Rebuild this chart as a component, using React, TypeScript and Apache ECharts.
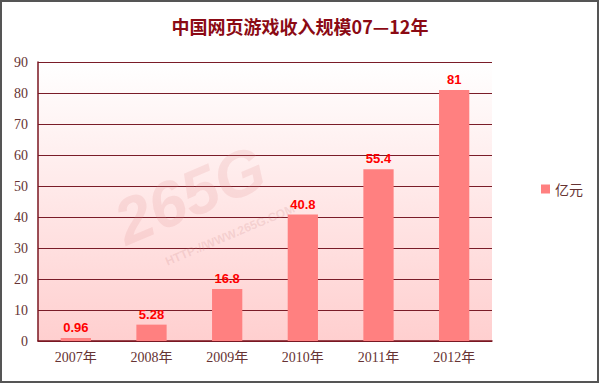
import React, { useEffect, useRef } from "react";
import * as echarts from "echarts";

const categories = ["2007年", "2008年", "2009年", "2010年", "2011年", "2012年"];
const values = [0.96, 5.28, 16.8, 40.8, 55.4, 81];
const seriesName = "亿元";
const titleText = "中国网页游戏收入规模07—12年";

export default function App() {
  const ref = useRef<HTMLDivElement>(null);
  useEffect(() => {
    document.body.style.margin = "0";
    const chart = echarts.init(ref.current!, null, { renderer: "svg" });
    chart.setOption({
      animation: false,
      backgroundColor: "#ffffff",
      title: {
        text: titleText,
        left: "center",
        top: 12,
        textStyle: {
          color: "#8B0A14",
          fontSize: 18,
          fontWeight: "bold",
          fontFamily: "Noto Sans CJK SC",
        },
      },
      legend: {
        data: [seriesName],
        left: 536,
        top: 177,
        icon: "rect",
        itemWidth: 9,
        itemHeight: 9,
        textStyle: { color: "#663333", fontSize: 14, fontFamily: "Noto Sans CJK SC" },
      },
      grid: {
        left: 38,
        right: 108,
        top: 62,
        bottom: 43,
        show: true,
        borderWidth: 0,
        backgroundColor: new echarts.graphic.LinearGradient(0, 0, 0, 1, [
          { offset: 0, color: "#ffffff" },
          { offset: 1, color: "#FFCFCF" },
        ]),
      },
      xAxis: {
        type: "category",
        data: categories,
        axisLine: { lineStyle: { color: "#7A1620", width: 1.5 } },
        axisTick: { inside: true, length: 5, lineStyle: { color: "#7A1620" } },
        axisLabel: {
          color: "#663333",
          fontSize: 14,
          margin: 9,
          fontFamily: "Liberation Serif, Noto Sans CJK SC",
        },
      },
      yAxis: {
        type: "value",
        min: 0,
        max: 90,
        interval: 10,
        axisLine: { show: true, lineStyle: { color: "#7A1620", width: 1.5 } },
        axisTick: { show: false },
        splitLine: { lineStyle: { color: "#7A1C28", width: 1.2 } },
        axisLabel: {
          color: "#663333",
          fontSize: 14,
          margin: 10,
          fontFamily: "Liberation Serif",
        },
      },
      graphic: [
        {
          type: "text",
          x: 190,
          y: 195,
          rotation: 0.4,
          z: 1,
          style: {
            text: "265G",
            fill: "rgba(220,140,140,0.18)",
            font: "italic bold 64px Liberation Sans",
            align: "center",
            verticalAlign: "middle",
          },
        },
        {
          type: "text",
          x: 230,
          y: 235,
          rotation: 0.4,
          z: 1,
          style: {
            text: "HTTP://WWW.265G.COM",
            fill: "rgba(200,130,130,0.2)",
            font: "bold 12px Liberation Sans",
            align: "center",
            verticalAlign: "middle",
          },
        },
        {
          type: "rect",
          z: 10,
          shape: { x: 1, y: 1, width: 597, height: 381 },
          style: { fill: "none", stroke: "#555555", lineWidth: 2 },
        },
      ],
      series: [
        {
          name: seriesName,
          type: "bar",
          data: values,
          barWidth: "40%",
          itemStyle: { color: "#FF8080" },
          label: {
            show: true,
            position: "top",
            distance: 4,
            color: "#FF0000",
            fontWeight: "bold",
            fontSize: 13,
            fontFamily: "Liberation Sans",
          },
        },
      ],
    });
    return () => chart.dispose();
  }, []);
  return <div ref={ref} style={{ width: 600, height: 384 }} />;
}
